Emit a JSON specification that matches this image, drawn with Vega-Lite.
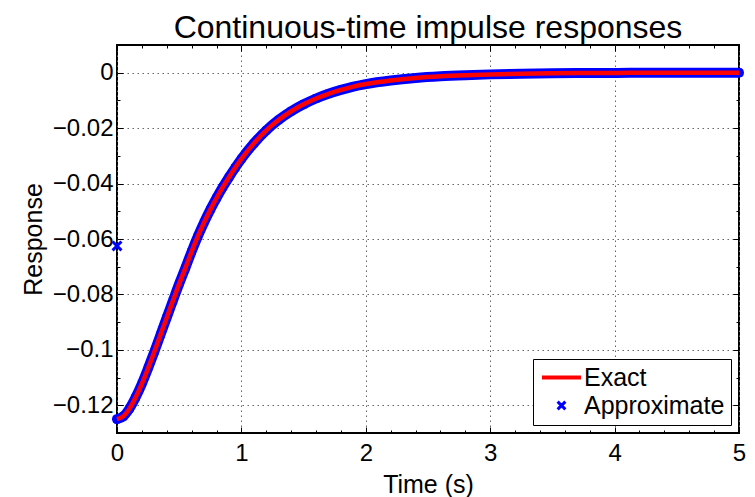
{
  "$schema": "https://vega.github.io/schema/vega-lite/v6.json",
  "width": 622,
  "height": 388,
  "autosize": {"type": "none"},
  "padding": {"left": 117, "top": 45, "right": 16, "bottom": 64},
  "background": "white",
  "config": {
    "view": {"stroke": "black", "strokeWidth": 2},
    "font": "Liberation Sans"
  },
  "title": {
    "text": "Continuous-time impulse responses",
    "font": "Liberation Sans",
    "fontSize": 32,
    "fontWeight": "normal",
    "color": "black",
    "anchor": "middle",
    "offset": -12
  },
  "datasets": {
    "curve": [
      {"t": 0, "exact": -0.125, "approx": -0.125},
      {"t": 0.05, "exact": -0.124, "approx": -0.124},
      {"t": 0.1, "exact": -0.1212, "approx": -0.1212},
      {"t": 0.15, "exact": -0.1171, "approx": -0.1171},
      {"t": 0.2, "exact": -0.1122, "approx": -0.1122},
      {"t": 0.25, "exact": -0.1066, "approx": -0.1066},
      {"t": 0.3, "exact": -0.1007, "approx": -0.1007},
      {"t": 0.35, "exact": -0.0945, "approx": -0.0945},
      {"t": 0.4, "exact": -0.0883, "approx": -0.0883},
      {"t": 0.45, "exact": -0.0822, "approx": -0.0822},
      {"t": 0.5, "exact": -0.0761, "approx": -0.0761},
      {"t": 0.55, "exact": -0.0704, "approx": -0.0704},
      {"t": 0.6, "exact": -0.0645, "approx": -0.0645},
      {"t": 0.65, "exact": -0.059, "approx": -0.059},
      {"t": 0.7, "exact": -0.054, "approx": -0.054},
      {"t": 0.75, "exact": -0.0494, "approx": -0.0494},
      {"t": 0.8, "exact": -0.0452, "approx": -0.0452},
      {"t": 0.85, "exact": -0.0413, "approx": -0.0413},
      {"t": 0.9, "exact": -0.0377, "approx": -0.0377},
      {"t": 0.95, "exact": -0.0343, "approx": -0.0343},
      {"t": 1.0, "exact": -0.0311, "approx": -0.0311},
      {"t": 1.1, "exact": -0.0255, "approx": -0.0255},
      {"t": 1.2, "exact": -0.0208, "approx": -0.0208},
      {"t": 1.3, "exact": -0.017, "approx": -0.017},
      {"t": 1.4, "exact": -0.0139, "approx": -0.0139},
      {"t": 1.5, "exact": -0.0114, "approx": -0.0114},
      {"t": 1.6, "exact": -0.0093, "approx": -0.0093},
      {"t": 1.7, "exact": -0.0076, "approx": -0.0076},
      {"t": 1.8, "exact": -0.0062, "approx": -0.0062},
      {"t": 1.9, "exact": -0.005, "approx": -0.005},
      {"t": 2.0, "exact": -0.0041, "approx": -0.0041},
      {"t": 2.2, "exact": -0.0028, "approx": -0.0028},
      {"t": 2.4, "exact": -0.0019, "approx": -0.0019},
      {"t": 2.6, "exact": -0.0013, "approx": -0.0013},
      {"t": 2.8, "exact": -0.0009, "approx": -0.0009},
      {"t": 3.0, "exact": -0.0006, "approx": -0.0006},
      {"t": 3.25, "exact": -0.0004, "approx": -0.0004},
      {"t": 3.5, "exact": -0.0002, "approx": -0.0002},
      {"t": 3.75, "exact": -0.0001, "approx": -0.0001},
      {"t": 4.0, "exact": -0.0001, "approx": -0.0001},
      {"t": 4.25, "exact": 0, "approx": 0},
      {"t": 4.5, "exact": 0, "approx": 0},
      {"t": 4.75, "exact": 0, "approx": 0},
      {"t": 5.0, "exact": 0, "approx": 0}
    ],
    "approxStart": [
      {"t": 0, "approx": -0.0625}
    ]
  },
  "layer": [
    {
      "data": {"name": "curve"},
      "mark": {"type": "line", "stroke": "blue", "strokeWidth": 10, "strokeCap": "round", "strokeJoin": "round", "interpolate": "monotone", "clip": false},
      "encoding": {
        "x": {
          "field": "t", "type": "quantitative",
          "scale": {"domain": [0, 5], "nice": false, "zero": false},
          "axis": {
            "orient": "bottom",
            "values": [0, 0.2, 0.4, 0.6, 0.8, 1, 1.2, 1.4, 1.6, 1.8, 2, 2.2, 2.4, 2.6, 2.8, 3, 3.2, 3.4, 3.6, 3.8, 4, 4.2, 4.4, 4.6, 4.8, 5],
            "title": "Time (s)",
            "titleFont": "Liberation Sans", "titleFontSize": 25, "titleFontWeight": "normal", "titleColor": "black", "titlePadding": 4,
            "labelFont": "Liberation Sans", "labelFontSize": 24, "labelColor": "black",
            "labelExpr": "datum.value % 1 === 0 ? format(datum.value, 'd') : ''",
            "labelPadding": 14, "labelFlush": false, "labelOverlap": false, "labelBound": false,
            "domain": false,
            "ticks": true, "tickColor": "black", "tickWidth": 1,
            "tickSize": {"condition": {"test": "datum.value % 1 === 0", "value": -6}, "value": -3},
            "grid": true, "gridColor": "#666666", "gridDash": [1.5, 3.5], "gridWidth": 1,
            "gridOpacity": {"condition": {"test": "datum.value % 1 === 0", "value": 1}, "value": 0}
          }
        },
        "y": {
          "field": "approx", "type": "quantitative",
          "scale": {"domain": [-0.13, 0.01], "nice": false, "zero": false},
          "axis": {
            "orient": "left",
            "values": [-0.13, -0.12, -0.11, -0.1, -0.09, -0.08, -0.07, -0.06, -0.05, -0.04, -0.03, -0.02, -0.01, 0, 0.01],
            "title": "Response",
            "titleFont": "Liberation Sans", "titleFontSize": 25, "titleFontWeight": "normal", "titleColor": "black", "titlePadding": 6,
            "labelFont": "Liberation Sans", "labelFontSize": 24, "labelColor": "black",
            "labelExpr": "abs(round(datum.value * 100)) % 2 === 0 ? format(datum.value, '~g') : ''",
            "labelPadding": 10, "labelFlush": false, "labelOverlap": false, "labelBound": false,
            "domain": false,
            "ticks": true, "tickColor": "black", "tickWidth": 1,
            "tickSize": {"condition": {"test": "abs(round(datum.value * 100)) % 2 === 0", "value": -6}, "value": -3},
            "grid": true, "gridColor": "#666666", "gridDash": [1.5, 3.5], "gridWidth": 1,
            "gridOpacity": {"condition": {"test": "abs(round(datum.value * 100)) % 2 === 0", "value": 1}, "value": 0}
          }
        }
      }
    },
    {
      "data": {"name": "curve"},
      "mark": {"type": "point", "shape": "M-1,-1L1,1M-1,1L1,-1", "filled": false, "strokeWidth": 2.5, "size": 50, "opacity": 1, "clip": false},
      "encoding": {
        "x": {"field": "t", "type": "quantitative", "axis": null},
        "y": {"field": "approx", "type": "quantitative", "axis": null},
        "color": {"datum": "Approximate", "type": "nominal"}
      }
    },
    {
      "data": {"name": "approxStart"},
      "mark": {"type": "point", "shape": "M-1,-1L1,1M-1,1L1,-1", "filled": false, "strokeWidth": 3, "size": 80, "opacity": 1, "clip": false},
      "encoding": {
        "x": {"field": "t", "type": "quantitative", "axis": null},
        "y": {"field": "approx", "type": "quantitative", "axis": null},
        "color": {"datum": "Approximate", "type": "nominal"}
      }
    },
    {
      "data": {"name": "curve"},
      "mark": {"type": "line", "strokeWidth": 4.5, "strokeCap": "butt", "interpolate": "monotone", "clip": false},
      "encoding": {
        "x": {
          "field": "t", "type": "quantitative",
          "axis": {
            "orient": "top",
            "values": [0, 0.2, 0.4, 0.6, 0.8, 1, 1.2, 1.4, 1.6, 1.8, 2, 2.2, 2.4, 2.6, 2.8, 3, 3.2, 3.4, 3.6, 3.8, 4, 4.2, 4.4, 4.6, 4.8, 5],
            "title": null, "labels": false, "domain": false, "grid": false,
            "ticks": true, "tickColor": "black", "tickWidth": 1,
            "tickSize": {"condition": {"test": "datum.value % 1 === 0", "value": -6}, "value": -3}
          }
        },
        "y": {
          "field": "exact", "type": "quantitative",
          "axis": {
            "orient": "right",
            "values": [-0.13, -0.12, -0.11, -0.1, -0.09, -0.08, -0.07, -0.06, -0.05, -0.04, -0.03, -0.02, -0.01, 0, 0.01],
            "title": null, "labels": false, "domain": false, "grid": false,
            "ticks": true, "tickColor": "black", "tickWidth": 1,
            "tickSize": {"condition": {"test": "abs(round(datum.value * 100)) % 2 === 0", "value": -6}, "value": -3}
          }
        },
        "color": {
          "datum": "Exact", "type": "nominal",
          "scale": {"domain": ["Exact", "Approximate"], "range": ["red", "blue"]},
          "legend": {
            "orient": "none", "legendX": 416, "legendY": 314,
            "title": null,
            "strokeColor": "black", "fillColor": "white", "padding": 6,
            "labelFont": "Liberation Sans", "labelFontSize": 25, "labelColor": "black", "labelOffset": 10,
            "symbolSize": 1521, "symbolOffset": 10, "rowPadding": 2,
            "encode": {
              "symbols": {
                "update": {
                  "shape": {"signal": "datum.value === 'Exact' ? 'stroke' : 'M-1,-1L1,1M-1,1L1,-1'"},
                  "stroke": {"signal": "datum.value === 'Exact' ? 'red' : 'blue'"},
                  "fill": {"value": "transparent"},
                  "strokeWidth": {"signal": "datum.value === 'Exact' ? 4 : 3"},
                  "size": {"signal": "datum.value === 'Exact' ? 1521 : 60"},
                  "opacity": {"value": 1}
                }
              }
            }
          }
        }
      }
    }
  ],
  "resolve": {"axis": {"x": "independent", "y": "independent"}}
}
